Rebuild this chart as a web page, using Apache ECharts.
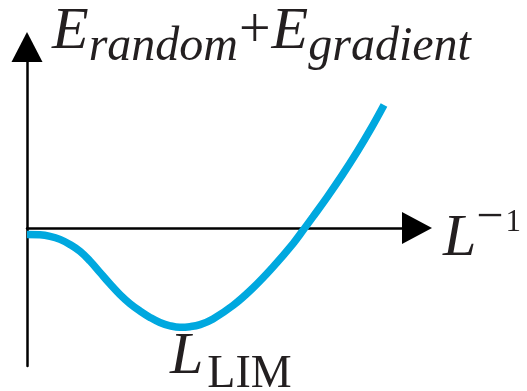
<!DOCTYPE html>
<html>
<head>
<meta charset="utf-8">
<script src="https://cdn.jsdelivr.net/npm/echarts@6.0.0/dist/echarts.min.js"></script>
<style>
  html, body { margin: 0; padding: 0; background: #fff; }
  #chart { width: 527px; height: 391px; }
</style>
</head>
<body>
<div id="chart"></div>
<script>
// Energy curve sampled along inverse length (arbitrary units)
const invLength = [0, 0.43, 0.77, 1.1, 1.43, 1.77, 2.1, 2.43, 2.77, 3.1, 3.43, 3.77,
  4.1, 4.43, 4.77, 5.1, 5.43, 5.77, 6.2, 6.87, 7.53, 8.2, 8.87, 9.2, 9.53, 10.0,
  10.5, 11.0, 11.43, 11.9];
const energy = [-0.22, -0.23, -0.28, -0.38, -0.55, -0.78, -1.1, -1.48, -1.87, -2.22,
  -2.52, -2.77, -2.98, -3.15, -3.26, -3.31, -3.29, -3.22, -3.03, -2.58, -2.0, -1.3,
  -0.52, -0.08, 0.37, 1.02, 1.75, 2.53, 3.25, 4.1];

// Axis extents
const xRange = [0, 13];
const yRange = [-4.6, 6.03];

// Axis titles and the marker label
const yTitle = ['E', 'random', '+', 'E', 'gradient'];
const xTitle = ['L', '\u2212', '1'];
const minLabel = ['L', 'LIM'];

const serif = "'Liberation Serif', 'Times New Roman', serif";
const ink = '#231F20';

const points = invLength.map((x, i) => [x, energy[i]]);
let minIdx = 0;
energy.forEach((v, i) => { if (v < energy[minIdx]) minIdx = i; });

const axisLineStyle = { color: '#000', width: 2.5 };

const chart = echarts.init(document.getElementById('chart'), null, { renderer: 'canvas' });
chart.setOption({
  animation: false,
  backgroundColor: '#fff',
  grid: { left: 27, right: 110, top: 47, bottom: 25, outerBoundsMode: 'none' },
  xAxis: {
    type: 'value',
    min: xRange[0],
    max: xRange[1],
    axisLine: {
      show: true, onZero: true,
      symbol: ['none', 'triangle'], symbolSize: [32, 30],
      lineStyle: axisLineStyle
    },
    axisTick: { show: false },
    axisLabel: { show: false },
    splitLine: { show: false },
    name: `{l|${xTitle[0]}}{m|${xTitle[1]}}{o|${xTitle[2]}}`,
    nameLocation: 'end',
    nameGap: 26,
    nameTextStyle: {
      align: 'left',
      verticalAlign: 'middle',
      padding: [23.5, 0, 0, 0],
      rich: {
        l: { fontFamily: serif, fontStyle: 'italic', fontSize: 60, color: ink },
        m: { fontFamily: serif, fontSize: 48, color: ink, padding: [0, 0, 42, 0] },
        o: { fontFamily: serif, fontSize: 31, color: ink, padding: [0, 0, 34.5, 2] }
      }
    }
  },
  yAxis: {
    type: 'value',
    min: yRange[0],
    max: yRange[1],
    axisLine: {
      show: true, onZero: false,
      symbol: ['none', 'triangle'], symbolSize: [31, 30],
      lineStyle: axisLineStyle
    },
    axisTick: { show: false },
    axisLabel: { show: false },
    splitLine: { show: false },
    name: `{e|${yTitle[0]}}{s|${yTitle[1]}}{p|${yTitle[2]}}{e|${yTitle[3]}}{s|${yTitle[4]}}`,
    nameLocation: 'end',
    nameGap: 15,
    nameTextStyle: {
      align: 'left',
      verticalAlign: 'middle',
      padding: [0, 0, 0, 25],
      rich: {
        e: { fontFamily: serif, fontStyle: 'italic', fontSize: 60, color: ink },
        s: { fontFamily: serif, fontStyle: 'italic', fontSize: 48, color: ink, padding: [30, 0, 0, 0] },
        p: { fontFamily: serif, fontSize: 56, color: ink, padding: [0, 1, 0, 1] }
      }
    }
  },
  series: [{
    type: 'line',
    data: points,
    smooth: 0.4,
    showSymbol: false,
    symbol: 'none',
    lineStyle: { color: '#00A8DF', width: 7.5, cap: 'butt' },
    z: 1,
    markPoint: {
      symbol: 'circle',
      symbolSize: 0,
      silent: true,
      data: [{ coord: points[minIdx] }],
      label: {
        show: true,
        position: 'inside',
        align: 'left',
        verticalAlign: 'middle',
        offset: [-10, 29.5],
        formatter: `{l|${minLabel[0]}}{s|${minLabel[1]}}`,
        rich: {
          l: { fontFamily: serif, fontStyle: 'italic', fontSize: 60, color: ink },
          s: { fontFamily: serif, fontSize: 46, color: ink, padding: [35.5, 0, 0, 4] }
        }
      }
    }
  }]
});
</script>
</body>
</html>
